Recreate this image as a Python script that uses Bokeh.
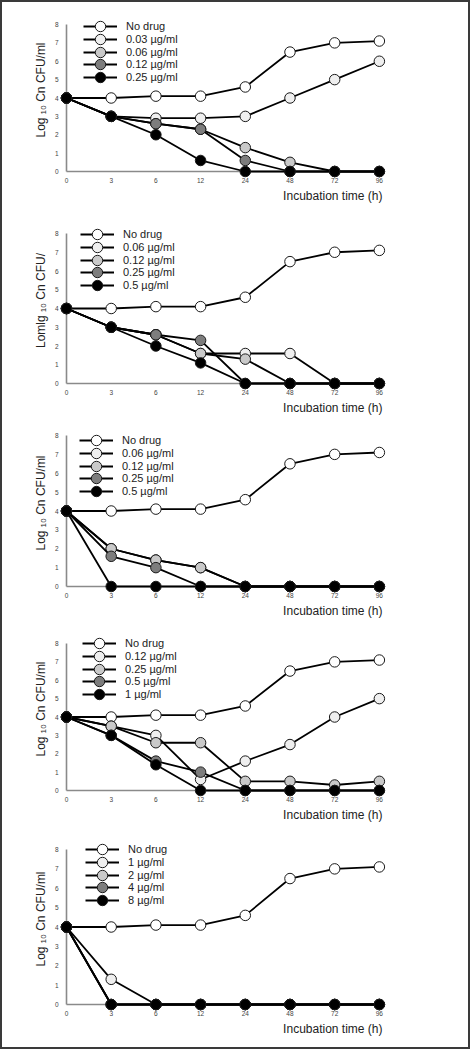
from bokeh.plotting import figure
from bokeh.layouts import column
from bokeh.models import Range1d, FixedTicker, Legend, LegendItem, Title, Label
from bokeh.embed import file_html
from bokeh.resources import INLINE

# ---------------- data ----------------
times = ["0", "3", "6", "12", "24", "48", "72", "96"]

a_labels = ["No drug", "0.03 µg/ml", "0.06 µg/ml", "0.12 µg/ml", "0.25 µg/ml"]
a_no_drug = [4.0, 4.0, 4.1, 4.1, 4.6, 6.5, 7.0, 7.1]
a_c1 = [4.0, 3.0, 2.9, 2.9, 3.0, 4.0, 5.0, 6.0]
a_c2 = [4.0, 3.0, 2.6, 2.3, 1.3, 0.5, 0.0, 0.0]
a_c3 = [4.0, 3.0, 2.6, 2.3, 0.6, 0.0, 0.0, 0.0]
a_c4 = [4.0, 3.0, 2.0, 0.6, 0.0, 0.0, 0.0, 0.0]

b_labels = ["No drug", "0.06 µg/ml", "0.12 µg/ml", "0.25 µg/ml", "0.5 µg/ml"]
b_no_drug = [4.0, 4.0, 4.1, 4.1, 4.6, 6.5, 7.0, 7.1]
b_c1 = [4.0, 3.0, 2.6, 1.6, 1.6, 1.6, 0.0, 0.0]
b_c2 = [4.0, 3.0, 2.6, 1.6, 1.3, 0.0, 0.0, 0.0]
b_c3 = [4.0, 3.0, 2.6, 2.3, 0.0, 0.0, 0.0, 0.0]
b_c4 = [4.0, 3.0, 2.0, 1.1, 0.0, 0.0, 0.0, 0.0]

c_labels = ["No drug", "0.06 µg/ml", "0.12 µg/ml", "0.25 µg/ml", "0.5 µg/ml"]
c_no_drug = [4.0, 4.0, 4.1, 4.1, 4.6, 6.5, 7.0, 7.1]
c_c1 = [4.0, 2.0, 1.4, 1.0, 0.0, 0.0, 0.0, 0.0]
c_c2 = [4.0, 2.0, 1.4, 1.0, 0.0, 0.0, 0.0, 0.0]
c_c3 = [4.0, 1.6, 1.0, 0.0, 0.0, 0.0, 0.0, 0.0]
c_c4 = [4.0, 0.0, 0.0, 0.0, 0.0, 0.0, 0.0, 0.0]

d_labels = ["No drug", "0.12 µg/ml", "0.25 µg/ml", "0.5 µg/ml", "1 µg/ml"]
d_no_drug = [4.0, 4.0, 4.1, 4.1, 4.6, 6.5, 7.0, 7.1]
d_c1 = [4.0, 3.5, 3.0, 0.6, 1.6, 2.5, 4.0, 5.0]
d_c2 = [4.0, 3.5, 2.6, 2.6, 0.5, 0.5, 0.3, 0.5]
d_c3 = [4.0, 3.0, 1.6, 1.0, 0.0, 0.0, 0.0, 0.0]
d_c4 = [4.0, 3.0, 1.4, 0.0, 0.0, 0.0, 0.0, 0.0]

e_labels = ["No drug", "1 µg/ml", "2 µg/ml", "4 µg/ml", "8 µg/ml"]
e_no_drug = [4.0, 4.0, 4.1, 4.1, 4.6, 6.5, 7.0, 7.1]
e_c1 = [4.0, 1.3, 0.0, 0.0, 0.0, 0.0, 0.0, 0.0]
e_c2 = [4.0, 0.0, 0.0, 0.0, 0.0, 0.0, 0.0, 0.0]
e_c3 = [4.0, 0.0, 0.0, 0.0, 0.0, 0.0, 0.0, 0.0]
e_c4 = [4.0, 0.0, 0.0, 0.0, 0.0, 0.0, 0.0, 0.0]

y_ticks = [0, 1, 2, 3, 4, 5, 6, 7, 8]

panels = [
    ("A", "Log \u2081\u2080 Cn CFU/ml", a_labels, [a_no_drug, a_c1, a_c2, a_c3, a_c4]),
    ("B", "Lomlg \u2081\u2080 Cn CFU/", b_labels, [b_no_drug, b_c1, b_c2, b_c3, b_c4]),
    ("C", "Log \u2081\u2080 Cn CFU/ml", c_labels, [c_no_drug, c_c1, c_c2, c_c3, c_c4]),
    ("D", "Log \u2081\u2080 Cn CFU/ml", d_labels, [d_no_drug, d_c1, d_c2, d_c3, d_c4]),
    ("E", "Log \u2081\u2080 Cn CFU/ml", e_labels, [e_no_drug, e_c1, e_c2, e_c3, e_c4]),
]

# layout geometry per panel (pixels):
# fig height, top of y=8 line, axis height, axis-left x, last-tick x, letter x,
# legend x (from frame left), first legend row (below y=8 line)
geometry = [
    (204, 22, 147, 65, 379, 36, 17, 2),
    (212, 27, 150, 66, 384, 36, 14, 1),
    (204, 17, 151, 65, 387, 27, 13, 5),
    (206, 21, 147, 62, 384, 27, 16, 0),
    (219, 21, 155, 61, 393, 27, 19, 0),
]

FIG_W = 466
BORDER = 2
HEADROOM = 16
fill_colors = ["white", "#efefef", "#c9c9c9", "#7d7d7d", "black"]
FONT = "Liberation Sans"
ROW_PITCH = 12.8
GLYPH_H = 26


def make_panel(letter, ylabel, labels, series, geo):
    fig_h, top, axis_h, left_px, last_px, letter_px, leg_x, row0 = geo
    xs = list(range(len(times)))
    n = len(times) - 1
    step = (last_px - left_px) / n
    x_end = n + 0.07
    frame_w = x_end * step
    border_left = left_px - BORDER
    border_right = int(round(FIG_W - border_left - frame_w))
    y_top = 8 * (axis_h + HEADROOM) / axis_h
    p = figure(width=FIG_W, height=fig_h, output_backend="svg", toolbar_location=None,
               x_range=Range1d(0, x_end), y_range=Range1d(0, y_top),
               min_border_left=border_left, min_border_right=border_right,
               min_border_top=top - HEADROOM, min_border_bottom=fig_h - top - axis_h)
    p.outline_line_color = None
    p.grid.visible = False
    p.background_fill_color = "white"
    p.border_fill_color = "white"

    for ax in (p.xaxis[0], p.yaxis[0]):
        ax.axis_line_color = "#8a8a8a"
        ax.axis_line_width = 1.6
        ax.major_tick_in = 0
        ax.major_tick_out = 0
        ax.minor_tick_in = 0
        ax.minor_tick_out = 0
        ax.major_label_text_font = FONT
        ax.major_label_text_font_size = "6.5px"
        ax.major_label_text_color = "#444444"

    p.xaxis.ticker = FixedTicker(ticks=xs)
    p.xaxis.major_label_overrides = {i: t for i, t in enumerate(times)}
    p.xaxis.major_label_standoff = 6

    p.yaxis.ticker = FixedTicker(ticks=y_ticks)
    p.yaxis.bounds = (0, 8)
    p.yaxis.major_label_standoff = 8
    p.yaxis.axis_label = ylabel
    p.yaxis.axis_label_text_font = FONT
    p.yaxis.axis_label_text_font_style = "normal"
    p.yaxis.axis_label_text_font_size = "12px"
    p.yaxis.axis_label_text_color = "#222222"
    p.yaxis.axis_label_standoff = 4

    for i, (vals, lab, fc) in enumerate(zip(series, labels, fill_colors)):
        lr = p.line(xs, vals, line_color="black", line_width=1.8, level="overlay")
        sr = p.scatter(xs, vals, size=10.5, marker="circle", fill_color=fc,
                       line_color="#1a1a1a", line_width=1, level="overlay")
        row_center = row0 + i * ROW_PITCH
        loc_y = axis_h - row_center - GLYPH_H / 2
        lg = Legend(items=[LegendItem(label=lab, renderers=[lr, sr])],
                    location=(leg_x, loc_y), glyph_width=34, glyph_height=GLYPH_H,
                    label_height=13, spacing=0, padding=0, margin=0,
                    label_standoff=9, border_line_color=None,
                    background_fill_alpha=0, label_text_font=FONT,
                    label_text_font_size="11px", label_text_color="#222222")
        p.add_layout(lg)

    t = Title(text="Incubation time (h)", align="right", text_font=FONT,
              text_font_size="12px", text_font_style="normal",
              text_color="#222222", standoff=2)
    p.add_layout(t, "below")

    p.add_layout(Label(x=(letter_px - left_px) / step, y=7.9, text=letter,
                       text_font=FONT, text_font_style="bold", text_font_size="15px",
                       text_baseline="middle", text_color="#111111"))
    return p


figs = [make_panel(*pn, geo) for pn, geo in zip(panels, geometry)]
layout = column(*figs, spacing=0, styles={"border": "2px solid #3a3a3a"})

open("out.html", "w").write(file_html(layout, INLINE))
